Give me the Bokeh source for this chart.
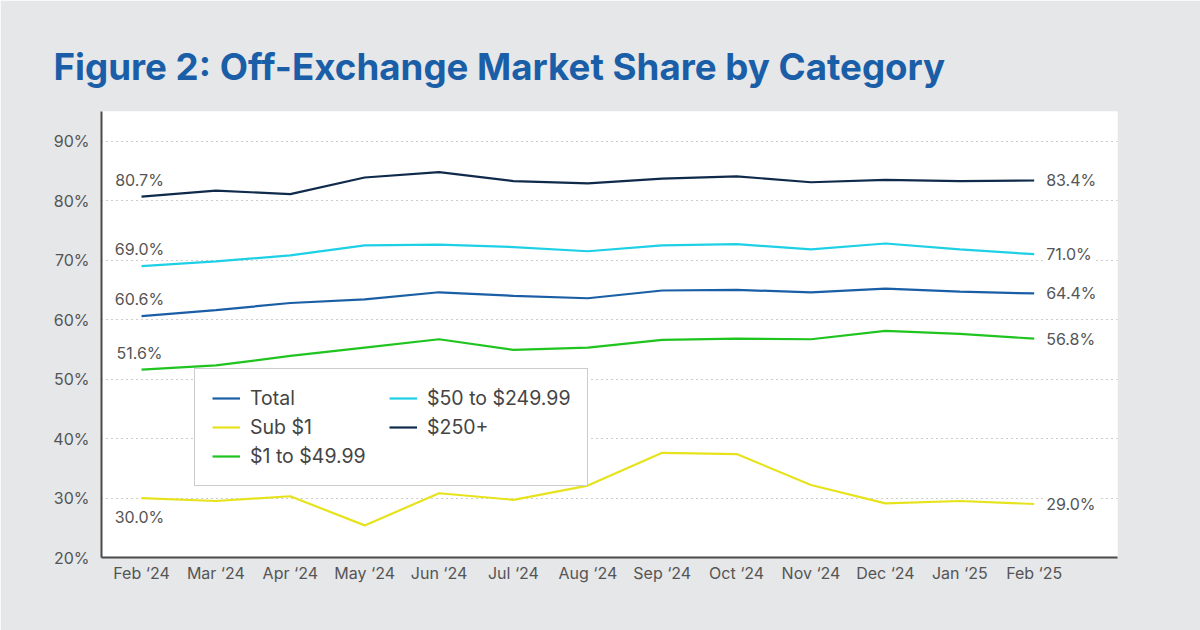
from bokeh.plotting import figure
from bokeh.models import Range1d, FixedTicker, Legend, LegendItem, Label
from bokeh.embed import file_html
from bokeh.resources import INLINE

# ---- data ----
months = ["Feb \u201824", "Mar \u201824", "Apr \u201824", "May \u201824", "Jun \u201824",
          "Jul \u201824", "Aug \u201824", "Sep \u201824", "Oct \u201824", "Nov \u201824",
          "Dec \u201824", "Jan \u201825", "Feb \u201825"]
total = [60.6, 61.6, 62.8, 63.4, 64.6, 64.0, 63.6, 64.9, 65.0, 64.6, 65.2, 64.7, 64.4]
sub_1 = [30.0, 29.5, 30.3, 25.4, 30.8, 29.7, 32.1, 37.6, 37.4, 32.2, 29.1, 29.5, 29.0]
one_to_49 = [51.6, 52.3, 53.9, 55.3, 56.7, 54.9, 55.3, 56.6, 56.8, 56.7, 58.1, 57.6, 56.8]
fifty_to_249 = [69.0, 69.8, 70.8, 72.5, 72.6, 72.2, 71.5, 72.5, 72.7, 71.8, 72.8, 71.8, 71.0]
over_250 = [80.7, 81.7, 81.1, 83.9, 84.8, 83.3, 82.9, 83.7, 84.1, 83.1, 83.5, 83.3, 83.4]
y_ticks = [20, 30, 40, 50, 60, 70, 80, 90]
y_tick_labels = ["20%", "30%", "40%", "50%", "60%", "70%", "80%", "90%"]

series_names = ["Total", "Sub $1", "$1 to $49.99", "$50 to $249.99", "$250+"]
series_values = [total, sub_1, one_to_49, fifty_to_249, over_250]
series_colors = ["#1a5ea6", "#e6e31c", "#1fc41f", "#1ed0e6", "#0f2a4a"]

FONT = "Inter"
TEXT = "#555555"
BG = "#e6e7e9"

x = list(range(len(months)))

p = figure(width=1200, height=630, output_backend="svg", toolbar_location=None,
           x_range=Range1d(-0.538, 13.12), y_range=Range1d(20, 95),
           min_border_left=101, min_border_right=83, min_border_top=111, min_border_bottom=73,
           background_fill_color="white", border_fill_color=BG, outline_line_color=None)

p.title.text = "Figure 2: Off-Exchange Market Share by Category"
p.title.text_font = FONT
p.title.text_font_size = "36.7px"
p.title.text_font_style = "bold"
p.title.text_color = "#1a5ea8"
p.title.align = "left"
p.title.offset = -48
p.title.standoff = 46

# axes
p.xaxis.ticker = FixedTicker(ticks=x)
p.xaxis.major_label_overrides = {i: m for i, m in zip(x, months)}
p.yaxis.ticker = FixedTicker(ticks=y_ticks)
p.yaxis.major_label_overrides = {t: l for t, l in zip(y_ticks, y_tick_labels)}
for ax in (p.xaxis, p.yaxis):
    ax.axis_line_color = "#4a4a4a"
    ax.axis_line_width = 2
    ax.major_tick_line_color = None
    ax.minor_tick_line_color = None
    ax.major_tick_out = 0
    ax.major_tick_in = 0
    ax.minor_tick_out = 0
    ax.minor_tick_in = 0
    ax.major_label_text_font = FONT
    ax.major_label_text_font_size = "16px"
    ax.major_label_text_color = TEXT
p.xaxis.major_label_standoff = 5
p.yaxis.major_label_standoff = 12

p.xgrid.grid_line_color = None
p.ygrid.grid_line_color = "#9a9a9a"
p.ygrid.grid_line_dash = "1 4"
p.ygrid.grid_line_width = 1

items = []
for name, vals, col in zip(series_names, series_values, series_colors):
    r = p.line(x, vals, line_color=col, line_width=2.2)
    items.append(LegendItem(label=name, renderers=[r]))

    # start label
    below = name == "Sub $1"
    p.add_layout(Label(x=x[0], y=vals[0], text=f"{vals[0]:.1f}%", text_font=FONT,
                       text_font_size="16px", text_color=TEXT, text_align="center",
                       text_baseline="top" if below else "bottom",
                       x_offset=-2, y_offset=-9 if below else 7))
    # end label
    p.add_layout(Label(x=x[-1], y=vals[-1], text=f"{vals[-1]:.1f}%", text_font=FONT,
                       text_font_size="16px", text_color=TEXT, text_align="left",
                       text_baseline="middle", x_offset=9,
                       background_fill_color="white", padding=3))

legend = Legend(items=items, ncols=2, location=(93, 71),
                label_text_font=FONT, label_text_font_size="19.5px", label_text_color="#444444",
                glyph_width=28, glyph_height=20, label_standoff=10, label_height=20,
                label_width=134, spacing=5, padding=17, margin=0,
                border_line_color="#9a9a9a", border_line_width=1.5,
                background_fill_color="white", background_fill_alpha=1)
p.add_layout(legend, "center")

html = file_html(p, INLINE)
html = html.replace("<body>", '<body style="margin:0;background:%s">' % BG, 1)
open("out.html", "w").write(html)
